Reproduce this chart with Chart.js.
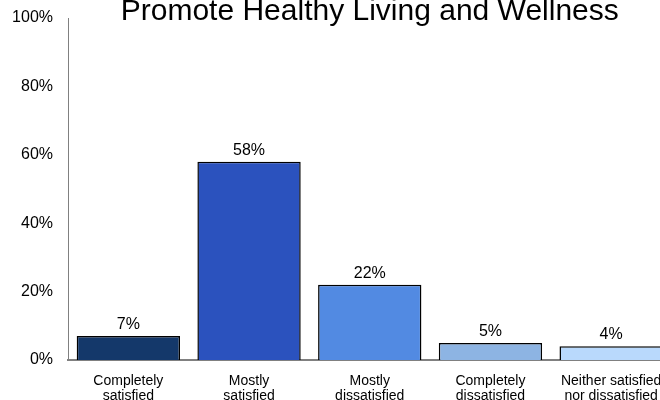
<!DOCTYPE html>
<html>
<head>
<meta charset="utf-8">
<script src="https://cdn.jsdelivr.net/npm/chart.js@4"></script>
<style>
    body { margin: 0; background: #fff; }
    #wrap { width: 660px; height: 400px; overflow: hidden; position: relative; }
    #holder { width: 680px; height: 400px; position: absolute; left: 0; top: 0; }
</style>
</head>
<body>
<div id="wrap"><div id="holder"><canvas id="chart"></canvas></div></div>
<script>
const chartTitle = "Promote Healthy Living and Wellness";
const categories = [
    ["Completely", "satisfied"],
    ["Mostly", "satisfied"],
    ["Mostly", "dissatisfied"],
    ["Completely", "dissatisfied"],
    ["Neither satisfied", "nor dissatisfied"]
];
const percentValues = [7, 58, 22, 5, 4];
const barColors = ["#14386a", "#2b52be", "#528ae2", "#8db4e3", "#b9d9fc"];
const yTicks = [0, 20, 40, 60, 80, 100];

const fontFamily = "'Liberation Sans', Arial, sans-serif";

// title centred over the plot (partly cut off at the top) and value labels above bars
const labelPlugin = {
    id: "labels",
    afterDatasetsDraw(chart) {
        const ctx = chart.ctx;
        const area = chart.chartArea;
        ctx.save();
        ctx.fillStyle = "#000";
        ctx.textAlign = "center";
        ctx.textBaseline = "alphabetic";
        ctx.font = "16px " + fontFamily;
        chart.getDatasetMeta(0).data.forEach((bar, i) => {
            ctx.fillText(percentValues[i] + "%", bar.x, bar.y - 7);
        });
        ctx.font = "30px " + fontFamily;
        ctx.fillText(chartTitle, (area.left + area.right) / 2, 20);
        ctx.restore();
    }
};

const ctx = document.getElementById("chart").getContext("2d");
const myChart = new Chart(ctx, {
    type: "bar",
    data: {
        labels: categories,
        datasets: [{
            data: percentValues,
            backgroundColor: barColors,
            borderColor: "#000",
            borderWidth: 1.5,
            barPercentage: 0.856,
            categoryPercentage: 1
        }]
    },
    options: {
        responsive: true,
        maintainAspectRatio: false,
        animation: false,
        layout: { padding: { top: 18, right: 8.5, left: 0, bottom: 0 } },
        plugins: {
            legend: { display: false },
            tooltip: { enabled: false }
        },
        scales: {
            x: {
                grid: { display: false, drawTicks: false },
                border: { color: "#808080", width: 2 },
                ticks: {
                    color: "#000",
                    padding: 14,
                    maxRotation: 0,
                    autoSkip: false,
                    font: { size: 14, family: fontFamily, lineHeight: 1.05 }
                },
                afterFit(scale) {
                    scale.height = 40;
                    scale.paddingLeft = 0;
                    scale.paddingRight = 0;
                }
            },
            y: {
                min: 0,
                max: 100,
                afterBuildTicks(scale) { scale.ticks = yTicks.map(v => ({ value: v })); },
                grid: { display: false, drawTicks: false },
                border: { color: "#808080", width: 1 },
                ticks: {
                    color: "#000",
                    padding: 15,
                    font: { size: 16, family: fontFamily },
                    callback: v => v + "%"
                },
                afterFit(scale) {
                    scale.width = 68;
                    scale.paddingTop = 0;
                    scale.paddingBottom = 0;
                }
            }
        }
    },
    plugins: [labelPlugin]
});
</script>
</body>
</html>
